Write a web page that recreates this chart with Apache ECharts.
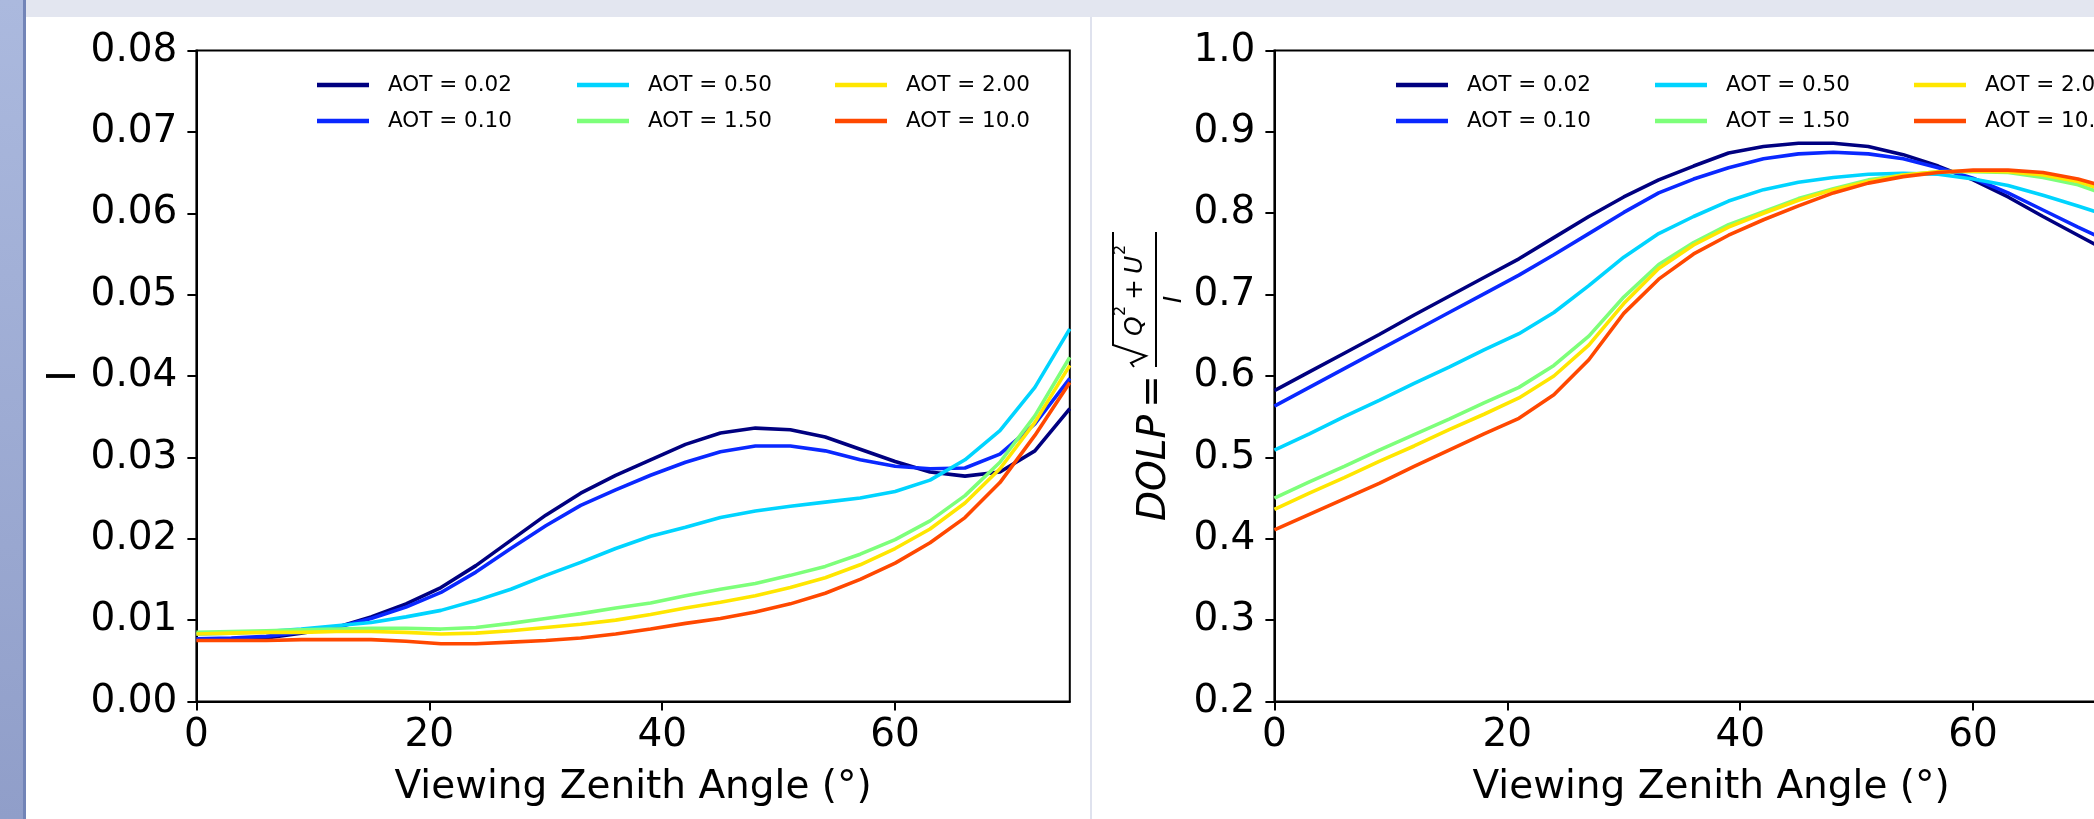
<!DOCTYPE html>
<html>
<head>
<meta charset="utf-8">
<title>AOT: I and DOLP vs viewing zenith angle</title>
<script src="https://cdn.jsdelivr.net/npm/echarts@6/dist/echarts.min.js"></script>
<style>
  html, body { margin: 0; padding: 0; width: 2094px; height: 819px; overflow: hidden; background: #fff; }
  #band { position: absolute; left: 0; top: 0; width: 2094px; height: 17px; background: #e3e6f0; }
  #side { position: absolute; left: 0; top: 0; width: 23px; height: 819px; background: linear-gradient(#abb9de, #909ec9); }
  #sideLine { position: absolute; left: 23px; top: 0; width: 3px; height: 819px; background: #7284b7; }
  #sep { position: absolute; left: 1090px; top: 17px; width: 2px; height: 802px; background: #dfe2ee; }
  #chart { position: absolute; left: 0; top: 0; width: 2180px; height: 819px; }
</style>
</head>
<body>
<div id="band"></div>
<div id="side"></div>
<div id="sideLine"></div>
<div id="sep"></div>
<div id="chart"></div>
<script>
// viewing zenith angle, degrees
const angles = [0, 3, 6, 9, 12, 15, 18, 21, 24, 27, 30, 33, 36, 39, 42, 45, 48, 51, 54, 57, 60, 63, 66, 69, 72, 75];
const aotNames = ['AOT = 0.02', 'AOT = 0.10', 'AOT = 0.50', 'AOT = 1.50', 'AOT = 2.00', 'AOT = 10.0'];
const xTicks = [0, 20, 40, 60];

// intensity I
const iAot002 = [0.0077, 0.0077, 0.0078, 0.0084, 0.0091, 0.0104, 0.0120, 0.0140, 0.0167, 0.0198, 0.0229, 0.0256, 0.0278, 0.0297, 0.0316, 0.0330, 0.0336, 0.0334, 0.0325, 0.0310, 0.0295, 0.0282, 0.0277, 0.0282, 0.0308, 0.0360];
const iAot010 = [0.0077, 0.0078, 0.0080, 0.0085, 0.0091, 0.0102, 0.0116, 0.0134, 0.0159, 0.0188, 0.0216, 0.0241, 0.0260, 0.0278, 0.0294, 0.0307, 0.0314, 0.0314, 0.0308, 0.0297, 0.0289, 0.0286, 0.0287, 0.0304, 0.0341, 0.0397];
const iAot050 = [0.0083, 0.0084, 0.0086, 0.0089, 0.0093, 0.0097, 0.0104, 0.0112, 0.0124, 0.0138, 0.0155, 0.0171, 0.0188, 0.0203, 0.0214, 0.0226, 0.0234, 0.0240, 0.0245, 0.0250, 0.0258, 0.0272, 0.0297, 0.0333, 0.0386, 0.0458];
const iAot150 = [0.0085, 0.0086, 0.0087, 0.0088, 0.0089, 0.0090, 0.0090, 0.0089, 0.0091, 0.0096, 0.0102, 0.0108, 0.0115, 0.0121, 0.0130, 0.0138, 0.0145, 0.0155, 0.0166, 0.0181, 0.0199, 0.0222, 0.0253, 0.0294, 0.0351, 0.0423];
const iAot200 = [0.0083, 0.0084, 0.0085, 0.0085, 0.0086, 0.0086, 0.0085, 0.0083, 0.0084, 0.0087, 0.0091, 0.0095, 0.0100, 0.0107, 0.0115, 0.0122, 0.0130, 0.0140, 0.0152, 0.0168, 0.0188, 0.0212, 0.0244, 0.0286, 0.0343, 0.0413];
const iAot1000 = [0.0075, 0.0075, 0.0075, 0.0076, 0.0076, 0.0076, 0.0074, 0.0071, 0.0071, 0.0073, 0.0075, 0.0078, 0.0083, 0.0089, 0.0096, 0.0102, 0.0110, 0.0120, 0.0133, 0.0150, 0.0170, 0.0195, 0.0226, 0.0269, 0.0327, 0.0392];

// degree of linear polarization
const dolpAot002 = [0.582, 0.605, 0.628, 0.651, 0.675, 0.698, 0.721, 0.744, 0.770, 0.796, 0.820, 0.841, 0.858, 0.874, 0.882, 0.886, 0.886, 0.882, 0.872, 0.858, 0.841, 0.820, 0.796, 0.773, 0.750, 0.727];
const dolpAot010 = [0.563, 0.586, 0.609, 0.632, 0.655, 0.678, 0.701, 0.724, 0.749, 0.775, 0.801, 0.825, 0.842, 0.856, 0.867, 0.873, 0.875, 0.873, 0.867, 0.856, 0.843, 0.825, 0.804, 0.783, 0.763, 0.743];
const dolpAot050 = [0.509, 0.529, 0.550, 0.570, 0.591, 0.611, 0.632, 0.652, 0.678, 0.711, 0.746, 0.775, 0.796, 0.815, 0.829, 0.838, 0.844, 0.848, 0.849, 0.848, 0.842, 0.834, 0.822, 0.809, 0.795, 0.780];
const dolpAot150 = [0.450, 0.470, 0.489, 0.509, 0.528, 0.547, 0.567, 0.586, 0.613, 0.649, 0.697, 0.737, 0.764, 0.786, 0.802, 0.818, 0.830, 0.841, 0.847, 0.851, 0.851, 0.850, 0.844, 0.835, 0.820, 0.800];
const dolpAot200 = [0.436, 0.456, 0.475, 0.495, 0.514, 0.534, 0.553, 0.573, 0.600, 0.638, 0.689, 0.732, 0.761, 0.783, 0.800, 0.816, 0.829, 0.839, 0.847, 0.851, 0.852, 0.851, 0.847, 0.839, 0.825, 0.808];
const dolpAot1000 = [0.411, 0.430, 0.449, 0.468, 0.489, 0.509, 0.529, 0.548, 0.577, 0.620, 0.677, 0.719, 0.750, 0.773, 0.792, 0.809, 0.825, 0.837, 0.845, 0.850, 0.853, 0.853, 0.850, 0.842, 0.830, 0.815];

const intensity = [iAot002, iAot010, iAot050, iAot150, iAot200, iAot1000];
const dolp = [dolpAot002, dolpAot010, dolpAot050, dolpAot150, dolpAot200, dolpAot1000];
const colors = ['#000080', '#0a28ff', '#00d4ff', '#7dff7a', '#ffe600', '#ff4800'];

const FONT = 'DejaVu Sans';
const plotW = 873.4, plotH = 651, plotTop = 50.5;
const gridLefts = [196.4, 1274.4];

function xAxis(idx) {
  return {
    type: 'value', gridIndex: idx, min: 0, max: 75,
    name: 'Viewing Zenith Angle (°)', nameLocation: 'middle', nameGap: 67,
    nameTextStyle: { fontFamily: FONT, fontSize: 39, color: '#000' },
    axisLine: { show: true, lineStyle: { color: '#000', width: 2 } },
    axisTick: { show: true, length: 9, lineStyle: { color: '#000', width: 2 }, customValues: xTicks },
    axisLabel: { fontFamily: FONT, fontSize: 39, color: '#000', margin: 15, customValues: xTicks },
    splitLine: { show: false }
  };
}

function yAxis(idx, min, max, step, digits, name) {
  return {
    type: 'value', gridIndex: idx, min: min, max: max, interval: step,
    name: name, nameLocation: 'middle', nameGap: 112, nameRotate: 90,
    nameTextStyle: { fontFamily: FONT, fontSize: 39, color: '#000' },
    axisLine: { show: true, lineStyle: { color: '#000', width: 2 } },
    axisTick: { show: true, length: 9, lineStyle: { color: '#000', width: 2 } },
    axisLabel: { fontFamily: FONT, fontSize: 39, color: '#000', margin: 19, formatter: v => v.toFixed(digits) },
    splitLine: { show: false }
  };
}

const series = [];
[intensity, dolp].forEach((set, g) => {
  set.forEach((vals, i) => {
    series.push({
      type: 'line', name: aotNames[i], xAxisIndex: g, yAxisIndex: g,
      data: angles.map((a, k) => [a, vals[k]]),
      showSymbol: false, symbol: 'none', smooth: false,
      lineStyle: { color: colors[i], width: 3.6 },
      itemStyle: { color: colors[i] },
      emphasis: { disabled: true }
    });
  });
});

// legends: 3 columns x 2 rows per panel
const legends = [];
const legendCols = [[317, 577, 835], [1396, 1655, 1914]];
legendCols.forEach(cols => {
  cols.forEach((x, c) => {
    legends.push({
      orient: 'vertical', left: x, top: 73, padding: 0, itemGap: 12,
      itemWidth: 52, itemHeight: 4.5, icon: 'rect', selectedMode: false,
      data: [aotNames[c * 2], aotNames[c * 2 + 1]],
      textStyle: { fontFamily: FONT, fontSize: 21.5, color: '#000', lineHeight: 24, padding: [0, 0, 0, 14] }
    });
  });
});

// y label of the DOLP panel: DOLP = sqrt(Q^2 + U^2) / I
const txt = (s, x, y, size, italic, align) => ({
  type: 'text', x: x, y: y,
  style: { text: s, font: (italic ? 'italic ' : '') + size + 'px "' + FONT + '"', fill: '#000', align: align || 'left', verticalAlign: 'middle' }
});
const dolpLabel = {
  type: 'group', x: 1156, y: 376, rotation: Math.PI / 2,
  children: [
    txt('DOLP', -145, -1, 39, true),
    txt('=', -15.5, -2, 39, false, 'center'),
    { type: 'line', shape: { x1: 9, y1: 0, x2: 144, y2: 0 }, style: { stroke: '#000', lineWidth: 2 } },
    { type: 'polyline', shape: { points: [[9, -22], [13, -25], [20, -10], [31, -43], [144, -43]] }, style: { stroke: '#000', lineWidth: 2, fill: null } },
    txt('Q', 40, -21, 25, true),
    txt('2', 60, -35, 16, false),
    txt('+', 76, -21, 25, false),
    txt('U', 102, -21, 25, true),
    txt('2', 121, -35, 16, false),
    txt('I', 76.5, 18, 25, true, 'center')
  ]
};

const chart = echarts.init(document.getElementById('chart'), null, { renderer: 'canvas' });
chart.setOption({
  animation: false,
  backgroundColor: 'transparent',
  grid: gridLefts.map(l => ({ left: l, top: plotTop, width: plotW, height: plotH, show: true, borderColor: '#000', borderWidth: 2, containLabel: false })),
  xAxis: [xAxis(0), xAxis(1)],
  yAxis: [yAxis(0, 0, 0.08, 0.01, 2, 'I'), yAxis(1, 0.2, 1.0, 0.1, 1, '')],
  legend: legends,
  series: series,
  graphic: [dolpLabel]
});
</script>
</body>
</html>
